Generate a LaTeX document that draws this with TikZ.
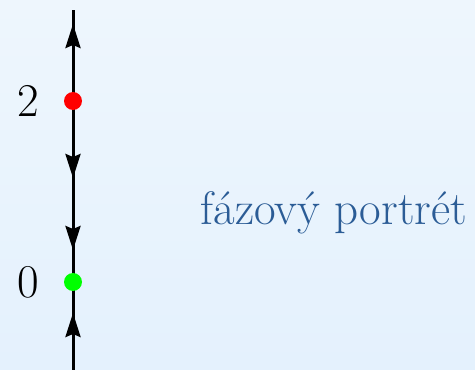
\documentclass[tikz,border=0pt]{standalone}
\usetikzlibrary{arrows.meta}
\definecolor{bgtop}{HTML}{EEF6FD}
\definecolor{bgbot}{HTML}{E4F1FD}
\definecolor{txtblue}{HTML}{2B5C96}
\begin{document}
\begin{tikzpicture}[x=1pt,y=1pt,
  tipmark/.style={line width=3pt,-{Stealth[length=24pt,width=15pt,inset=3pt]}},
  seg/.style={line width=3pt},
  lab/.style={font=\fontsize{47}{50}\selectfont},
  fixpt/.style={circle,inner sep=0pt,minimum size=18pt}]
\shade[top color=bgtop,bottom color=bgbot] (0,0) rectangle (475,370);
\useasboundingbox (0,0) rectangle (475,370);
\coordinate (top) at (73,360);
\coordinate (bot) at (73,0);
\coordinate (t1) at (73,346);
\coordinate (b1) at (73,330);
\coordinate (t2) at (73,192);
\coordinate (b2) at (73,208);
\coordinate (t3) at (73,120);
\coordinate (b3) at (73,136);
\coordinate (t4) at (73,57);
\coordinate (b4) at (73,41);
\node[fixpt] (red) at (73,269) {};
\node[fixpt] (green) at (73,88) {};
\draw[seg] (bot) -- (green.center) -- (red.center) -- (top);
\draw[tipmark] (b1) -- (t1);
\draw[tipmark] (b2) -- (t2);
\draw[tipmark] (b3) -- (t3);
\draw[tipmark] (b4) -- (t4);
\fill[red] (red) circle (9pt);
\fill[green] (green) circle (9pt);
\node[lab] (l2) at (28,269) {2};
\node[lab] (l0) at (28,88) {0};
\node[font=\fontsize{47}{50}\selectfont,text=txtblue,anchor=base] (fp) at (334,145) {fázový portrét};
\end{tikzpicture}
\end{document}
